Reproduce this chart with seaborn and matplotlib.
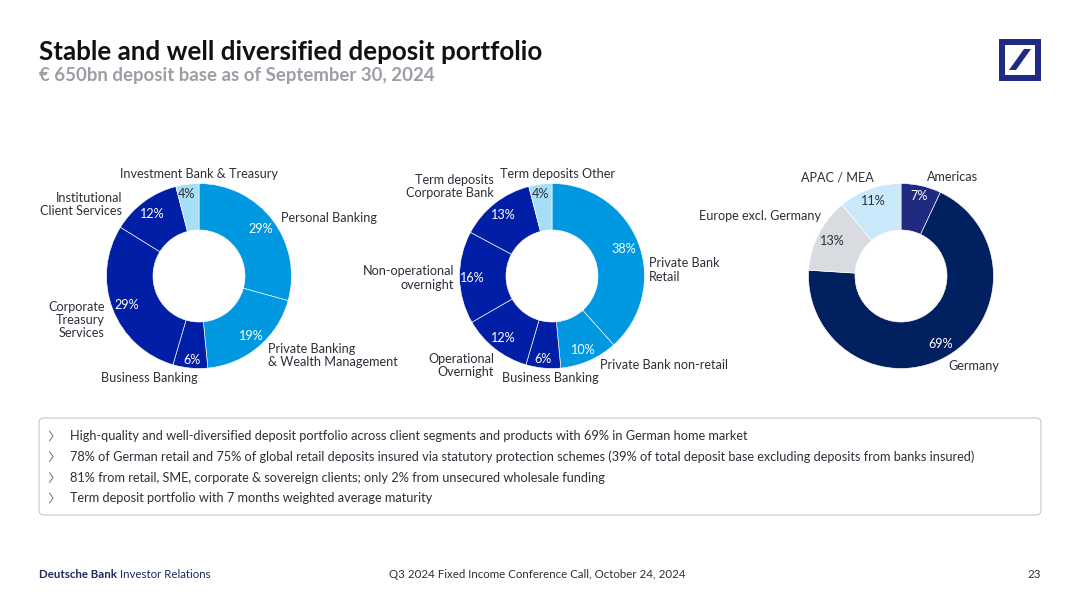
import matplotlib.pyplot as plt
from matplotlib.patches import FancyBboxPatch, Polygon, Rectangle
import seaborn as sns

# data
segment_values = [29, 19, 6, 29, 12, 4]
product_values = [38, 10, 6, 12, 16, 13, 4]
region_values = [7, 69, 13, 11]

segment_labels = ["Personal Banking", "Private Banking\n& Wealth Management", "Business Banking",
                  "Corporate\nTreasury\nServices", "Institutional\nClient Services", "Investment Bank & Treasury"]
product_labels = ["Private Bank\nRetail", "Private Bank non-retail", "Business Banking",
                  "Operational\nOvernight", "Non-operational\novernight", "Term deposits\nCorporate Bank",
                  "Term deposits Other"]
region_labels = ["Americas", "Germany", "Europe excl. Germany", "APAC / MEA"]

bullets = [
    "High-quality and well-diversified deposit portfolio across client segments and products with 69% in German home market",
    "78% of German retail and 75% of global retail deposits insured via statutory protection schemes (39% of total deposit base excluding deposits from banks insured)",
    "81% from retail, SME, corporate & sovereign clients; only 2% from unsecured wholesale funding",
    "Term deposit portfolio with 7 months weighted average maturity",
]

# colours
BLUE, DARK, PALE = "#0098e1", "#001ea6", "#a6def5"
segment_colors = sns.color_palette([BLUE, BLUE, DARK, DARK, DARK, PALE])
product_colors = sns.color_palette([BLUE, BLUE, DARK, DARK, DARK, DARK, PALE])
region_colors = sns.color_palette(["#1f2a80", "#00205f", "#d8dce1", "#c9e8fa"])
TEXT = "#2b3038"

sns.set_theme(style="white")
plt.rcParams['font.family'] = ['Lato', 'DejaVu Sans']

fig = plt.figure(figsize=(10.8, 6.07), dpi=100, facecolor="white")
ax = fig.add_axes([0, 0, 1, 1])


def put(x, y, s, ha="center", size=9.1, color=TEXT, **kw):
    # x, y in image pixels from the top left
    return ax.text(x, 607 - y, s, ha=ha, va="center", fontsize=size, color=color, linespacing=1.12, **kw)


def donut(cx, values, colors):
    ax.pie(values, colors=colors, startangle=90, counterclock=False, center=(cx, 607 - 276), radius=92.5,
           frame=True, wedgeprops=dict(width=46.5, edgecolor="white", linewidth=0.45))


donut(199, segment_values, segment_colors)
donut(552, product_values, product_colors)
donut(901, region_values, region_colors)
ax.set_xlim(0, 1080)
ax.set_ylim(0, 607)
ax.axis("off")

# label anchors, same order as the data
segment_pos = [(281, 218, "left"), (268, 355.5, "left"), (149, 378, "center"),
               (105, 320, "right"), (122, 204.5, "right"), (199, 174, "center")]
product_pos = [(649, 270, "left"), (600, 365, "left"), (550, 378, "center"),
               (494, 365.5, "right"), (454, 278, "right"), (494, 186.5, "right"), (557, 174, "center")]
region_pos = [(927, 177, "left"), (948, 366, "left"), (821, 216, "right"), (837, 178, "center")]

segment_pct = [(261, 229), (251, 336), (192, 360), (127, 305), (152, 214), (187, 194)]
product_pct = [(624, 249), (583, 350), (543, 359), (503, 338), (472, 278), (503, 215), (541, 194)]
region_pct = [(919, 196), (941, 344), (832, 241), (873, 201)]

for labels, pos in [(segment_labels, segment_pos), (product_labels, product_pos), (region_labels, region_pos)]:
    for s, (x, y, ha) in zip(labels, pos):
        put(x, y, s, ha=ha)

for values, pos, cols in [(segment_values, segment_pct, segment_colors),
                          (product_values, product_pct, product_colors),
                          (region_values, region_pct, region_colors)]:
    for v, (x, y), c in zip(values, pos, cols):
        light = sns.utils.relative_luminance(c) > 0.5
        put(x, y, f"{v}%", color=TEXT if light else "white")

# title
put(39, 52, "Stable and well diversified deposit portfolio", ha="left", size=18.75, color="#111111", fontweight="bold")
put(39, 75, "€ 650bn deposit base as of September 30, 2024", ha="left", size=13.4, color="#9a9fa6", fontweight="bold")

# logo
ax.add_patch(Rectangle((999, 607 - 81), 42, 42, facecolor="#1f2a85", edgecolor="none"))
ax.add_patch(Rectangle((1005, 607 - 75), 30, 30, facecolor="white", edgecolor="none"))
ax.add_patch(Polygon([(1009, 607 - 70), (1016, 607 - 70), (1031, 607 - 49), (1024, 607 - 49)],
                     facecolor="#1f2a85", edgecolor="none"))

# bullet box
ax.add_patch(FancyBboxPatch((43, 607 - 511), 994, 89, boxstyle="round,pad=4,rounding_size=5",
                            facecolor="white", edgecolor="#c8cacd", linewidth=0.8))
for y, s in zip([436, 456.5, 477.5, 498], bullets):
    ax.plot([49.5, 53, 49.5], [607 - y + 5, 607 - y, 607 - y - 5], color="#6b7078", lw=0.7)
    put(69.5, y, s, ha="left", size=9.16)

# footer
put(39, 574, "Deutsche Bank", ha="left", size=8.25, color="#1f2a60", fontweight="bold")
put(120.5, 574, "Investor Relations", ha="left", size=8.25, color="#1f2a60")
put(537, 574, "Q3 2024 Fixed Income Conference Call, October 24, 2024", size=8.25)
put(1041, 574, "23", ha="right", size=8.25)

fig.savefig("out.png", dpi=100)
